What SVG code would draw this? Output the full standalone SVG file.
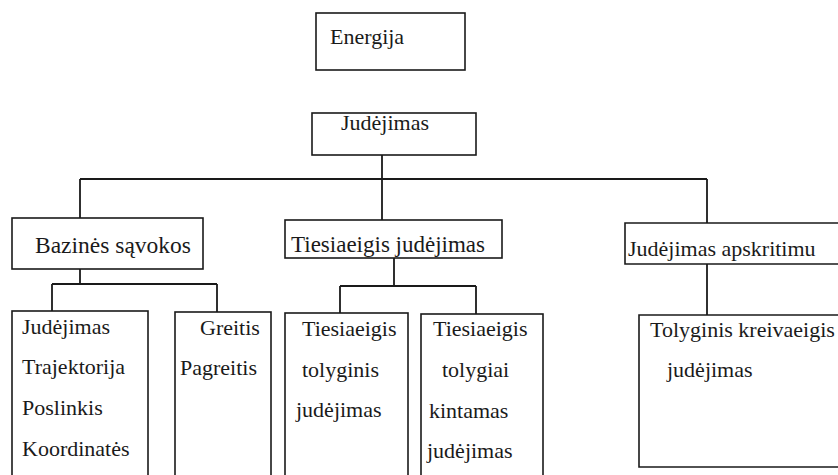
<svg xmlns="http://www.w3.org/2000/svg" width="838" height="475" viewBox="0 0 838 475">
<style>
.box{fill:#fff;stroke:#1a1a1a;stroke-width:1.6}
.ln{fill:none;stroke:#1a1a1a;stroke-width:1.8}
.t{font-family:'Liberation Serif',Tinos,'DejaVu Serif',serif;font-size:22px;fill:#1a1a1a}
</style>
<rect width="838" height="475" fill="#fff"/>
<g id="connectors">
<path class="ln" d="M382 155V179M80 179H707M80 179V218M382 179V220M707 179V223"/>
<path class="ln" d="M80 269V284M52 284H217M52 284V311M217 284V312"/>
<path class="ln" d="M394 258V286M340 286H476M340 286V313M476 286V314"/>
<path class="ln" d="M707 264V315"/>
</g>
<g class="t" font-family="Liberation Serif, serif">
<g id="energija"><rect class="box" x="316" y="13" width="149" height="57"/><text x="330" y="44">Energija</text></g>
<g id="judejimas"><rect class="box" x="312" y="113" width="164" height="42"/><text x="341" y="130">Judėjimas</text></g>
<g id="bazines"><rect class="box" x="12" y="218" width="191" height="51"/><text x="35" y="253" font-size="23.5">Bazinės sąvokos</text></g>
<g id="tiesiaeigis"><rect class="box" x="285" y="220" width="217" height="38"/><text x="291" y="252" font-size="23">Tiesiaeigis judėjimas</text></g>
<g id="apskritimu"><path class="box" d="M840 223H625V264H840"/><text x="628" y="256">Judėjimas apskritimu</text></g>
<g id="savokos1"><rect class="box" x="12" y="311" width="136" height="180"/>
<text x="22" y="334">Judėjimas</text><text x="22" y="374">Trajektorija</text><text x="22" y="415">Poslinkis</text><text x="22" y="456">Koordinatės</text></g>
<g id="savokos2"><rect class="box" x="175" y="312" width="96" height="180"/>
<text x="200" y="335">Greitis</text><text x="180" y="375">Pagreitis</text></g>
<g id="tolyginis"><rect class="box" x="285" y="313" width="123" height="180"/>
<text x="302" y="336">Tiesiaeigis</text><text x="302" y="377">tolyginis</text><text x="296" y="417">judėjimas</text></g>
<g id="kintamas"><rect class="box" x="421" y="314" width="122" height="180"/>
<text x="433" y="336">Tiesiaeigis</text><text x="442" y="377">tolygiai</text><text x="429" y="418">kintamas</text><text x="427" y="458">judėjimas</text></g>
<g id="kreivaeigis"><path class="box" d="M840 315H639V467H840"/>
<text x="650" y="337">Tolyginis kreivaeigis</text><text x="667" y="377">judėjimas</text></g>
</g>
</svg>
